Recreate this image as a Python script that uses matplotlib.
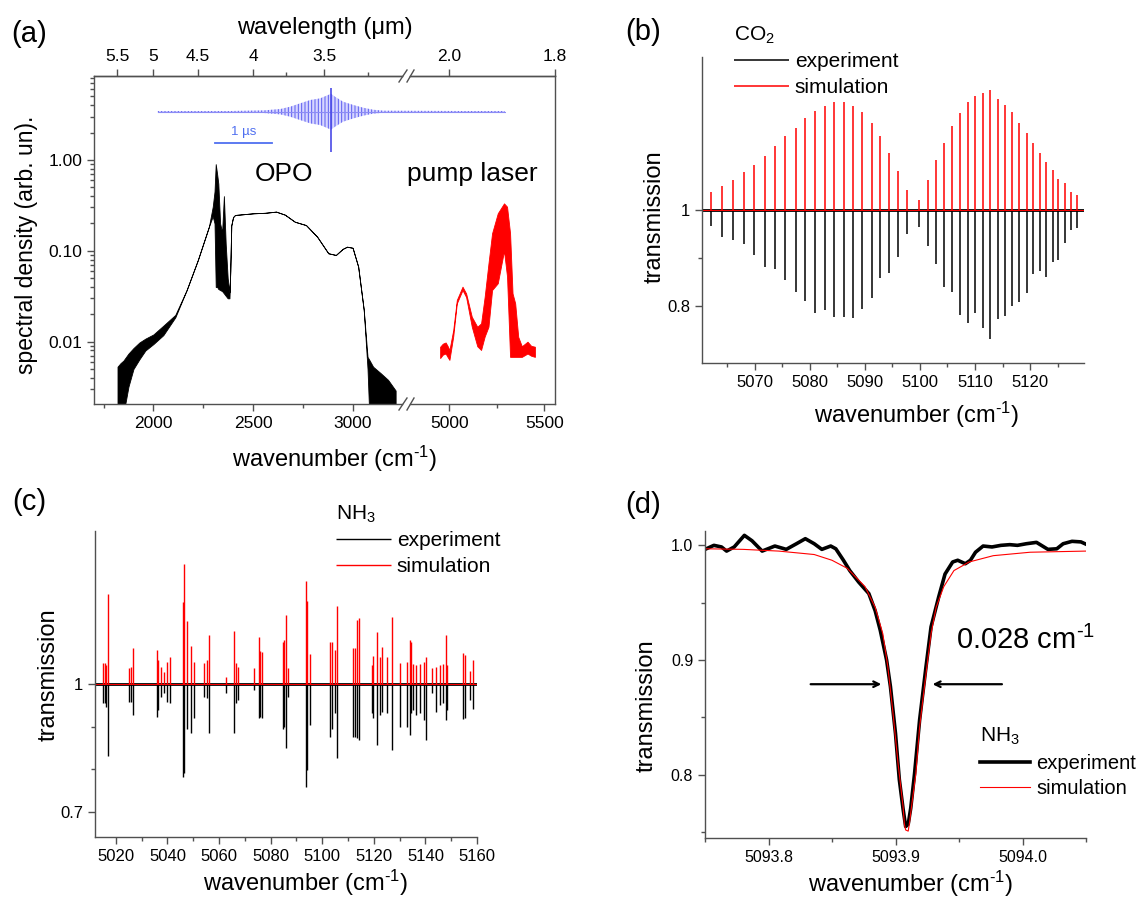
import numpy as np
import matplotlib.pyplot as plt
from matplotlib.lines import Line2D
from matplotlib.ticker import FixedLocator, NullFormatter, LogLocator

plt.rcParams['font.family'] = ['Liberation Sans', 'DejaVu Sans']
plt.rcParams['mathtext.fontset'] = 'custom'
plt.rcParams['mathtext.rm'] = 'Liberation Sans'
plt.rcParams['mathtext.it'] = 'Liberation Sans:italic'
plt.rcParams['hatch.linewidth'] = 0.7

# ---- (a) OPO spectrum: wavenumber, lower / upper envelope of the trace
opo_wn = [1820, 1835, 1850, 1875, 1900, 1930, 1960, 2000, 2050, 2110, 2167, 2223, 2279,
          2298, 2307, 2313, 2320, 2326, 2335, 2345, 2354, 2363, 2373, 2382, 2386, 2391,
          2400, 2410, 2504, 2560, 2616, 2660, 2710, 2766, 2822, 2878, 2916, 2950, 2972,
          3000, 3028, 3056, 3075, 3084, 3103, 3141, 3178, 3216]
opo_lo = [0.0015, 0.0015, 0.0016, 0.0032, 0.0050, 0.0064, 0.0080, 0.0094, 0.0118, 0.0185,
          0.037, 0.079, 0.185, 0.240, 0.200, 0.040, 0.040, 0.038, 0.037, 0.036, 0.034,
          0.032, 0.030, 0.030, 0.060, 0.190, 0.235, 0.248, 0.259, 0.262, 0.270, 0.250,
          0.209, 0.192, 0.143, 0.094, 0.090, 0.105, 0.111, 0.108, 0.067, 0.0223, 0.0050,
          0.0015, 0.0015, 0.0015, 0.0015, 0.0015]
opo_hi = [0.0053, 0.0058, 0.0062, 0.0074, 0.0085, 0.0098, 0.0108, 0.0120, 0.0150, 0.0197,
          0.037, 0.079, 0.185, 0.306, 0.45, 0.90, 0.70, 0.55, 0.20, 0.16, 0.40, 0.12,
          0.05, 0.035, 0.060, 0.190, 0.235, 0.248, 0.259, 0.262, 0.270, 0.250, 0.209,
          0.192, 0.143, 0.094, 0.090, 0.105, 0.111, 0.108, 0.067, 0.0223, 0.0068, 0.0063,
          0.0053, 0.0045, 0.0038, 0.0029]

# ---- (a) pump laser spectrum
pump_wn = [4951, 4965, 4980, 4990, 5000, 5020, 5039, 5069, 5088, 5118, 5147, 5167, 5186,
           5206, 5225, 5255, 5288, 5304, 5320, 5333, 5347, 5363, 5382, 5412, 5431, 5451]
pump_lo = [0.0066, 0.0072, 0.0074, 0.0068, 0.0063, 0.0114, 0.0264, 0.037, 0.031, 0.0146,
           0.0089, 0.0081, 0.0114, 0.0146, 0.037, 0.0439, 0.100, 0.052, 0.0068, 0.0068,
           0.0068, 0.0068, 0.0068, 0.0074, 0.0070, 0.0068]
pump_hi = [0.0088, 0.0095, 0.0098, 0.0090, 0.0081, 0.0134, 0.0288, 0.0403, 0.034, 0.0188,
           0.0146, 0.0159, 0.0313, 0.0728, 0.156, 0.259, 0.333, 0.306, 0.156, 0.034,
           0.0264, 0.0113, 0.0089, 0.0100, 0.0090, 0.0088]

# ---- (a) interferogram inset (time in us, envelope half amplitude)
igram_t = [-3.02, -1.75, -1.17, -0.88, -0.71, -0.54, -0.36, -0.19, -0.05, 0.0, 0.07,
           0.21, 0.39, 0.56, 0.73, 0.91, 2.24, 3.03]
igram_env = [0.7, 0.7, 1.3, 2.7, 5.0, 8.3, 11.7, 13.3, 16.7, 18.0, 15.0, 10.0, 6.7, 4.0,
             2.0, 1.0, 0.7, 0.7]
spike_t = [0.0]
spike_lo = [-40.0]
spike_hi = [23.3]
scalebar_t = [-2.03, -1.03]

# wavelength ticks of the top axis (um)
wl_left = [5.5, 5, 4.5, 4, 3.5]
wl_left_lbl = ['5.5', '5', '4.5', '4', '3.5']
wl_right = [2.0, 1.8]
wl_right_lbl = ['2.0', '1.8']

# ---- (b) CO2 lines
co2_wn = [5062.12, 5064.06, 5066.06, 5068.00, 5069.88, 5071.82, 5073.64, 5075.51, 5077.39,
          5079.09, 5080.91, 5082.67, 5084.42, 5086.18, 5087.82, 5089.52, 5091.21, 5092.79,
          5094.42, 5096.00, 5097.64, 5099.88,
          5101.39, 5102.91, 5104.42, 5105.88, 5107.33, 5108.73, 5110.06, 5111.45, 5112.79,
          5114.12, 5115.45, 5116.73, 5118.06, 5119.39, 5120.61, 5121.76, 5122.91, 5124.12,
          5125.15, 5126.30, 5127.40, 5128.50]
co2_sim = [0.038, 0.050, 0.0625, 0.078, 0.094, 0.1125, 0.132, 0.153, 0.170, 0.190, 0.205,
           0.217, 0.224, 0.224, 0.217, 0.203, 0.181, 0.153, 0.119, 0.080, 0.042, 0.021,
           0.0625, 0.104, 0.140, 0.175, 0.201, 0.224, 0.2375, 0.243, 0.250, 0.231, 0.219,
           0.203, 0.181, 0.160, 0.139, 0.119, 0.099, 0.083, 0.065, 0.056, 0.038, 0.031]
co2_exp = [0.033, 0.056, 0.0625, 0.071, 0.095, 0.119, 0.124, 0.147, 0.172, 0.189, 0.215,
           0.208, 0.224, 0.224, 0.226, 0.207, 0.184, 0.142, 0.132, 0.099, 0.050, 0.035,
           0.076, 0.113, 0.160, 0.172, 0.219, 0.236, 0.215, 0.247, 0.269, 0.228, 0.221,
           0.201, 0.191, 0.174, 0.133, 0.128, 0.139, 0.108, 0.104, 0.069, 0.043, 0.039]

# ---- (c) NH3 lines
nh3_wn = [5015.0, 5015.7, 5016.2, 5016.8, 5025.2, 5025.9, 5026.6, 5035.8, 5036.3, 5037.3,
          5038.6, 5040.0, 5041.0, 5046.1, 5046.5, 5047.5, 5049.1, 5050.3, 5054.0, 5055.2,
          5056.2, 5062.5, 5065.8, 5066.7, 5067.4, 5073.4, 5075.3, 5076.0, 5076.6, 5084.7,
          5085.3, 5086.0, 5086.6, 5093.6, 5094.1, 5095.3, 5103.0, 5103.7, 5104.8, 5105.8,
          5112.1, 5112.8, 5113.5, 5114.2, 5119.1, 5119.8, 5121.2, 5122.3, 5123.3, 5125.1,
          5126.9, 5130.0, 5132.8, 5133.9, 5134.4, 5135.3, 5136.5, 5137.8, 5139.5, 5140.4,
          5142.5, 5144.2, 5145.6, 5146.7, 5147.8, 5148.5, 5154.4, 5155.4, 5157.2, 5158.6]
nh3_sim = [0.051, 0.051, 0.045, 0.213, 0.038, 0.040, 0.085, 0.081, 0.057, 0.042,
           0.030, 0.053, 0.065, 0.195, 0.284, 0.150, 0.091, 0.053, 0.050, 0.057,
           0.116, 0.018, 0.126, 0.051, 0.042, 0.038, 0.111, 0.079, 0.077, 0.101,
           0.104, 0.163, 0.038, 0.244, 0.197, 0.071, 0.100, 0.100, 0.081, 0.185,
           0.087, 0.087, 0.152, 0.156, 0.045, 0.067, 0.124, 0.065, 0.088, 0.065,
           0.158, 0.051, 0.053, 0.104, 0.100, 0.049, 0.045, 0.048, 0.053, 0.065,
           0.038, 0.042, 0.045, 0.049, 0.116, 0.045, 0.073, 0.069, 0.032, 0.057]
nh3_exp = [0.045, 0.045, 0.053, 0.170, 0.041, 0.041, 0.072, 0.078, 0.060, 0.029,
           0.020, 0.041, 0.045, 0.218, 0.210, 0.104, 0.115, 0.080, 0.029, 0.033,
           0.115, 0.021, 0.115, 0.045, 0.037, 0.012, 0.080, 0.078, 0.080, 0.104,
           0.100, 0.151, 0.029, 0.241, 0.202, 0.096, 0.123, 0.104, 0.068, 0.174,
           0.123, 0.123, 0.127, 0.131, 0.068, 0.080, 0.143, 0.072, 0.064, 0.068,
           0.155, 0.101, 0.100, 0.119, 0.068, 0.060, 0.072, 0.068, 0.084, 0.131,
           0.021, 0.064, 0.049, 0.045, 0.084, 0.060, 0.082, 0.080, 0.037, 0.057]

# ---- (d) single NH3 line
d_exp_wn = [5093.751, 5093.757, 5093.763, 5093.767, 5093.773, 5093.781, 5093.787, 5093.795,
            5093.805, 5093.814, 5093.822, 5093.829, 5093.836, 5093.842, 5093.849, 5093.853,
            5093.859, 5093.864, 5093.871, 5093.879, 5093.884, 5093.888, 5093.893, 5093.896,
            5093.900, 5093.903, 5093.906, 5093.908, 5093.910, 5093.912, 5093.915, 5093.919,
            5093.924, 5093.928, 5093.934, 5093.939, 5093.945, 5093.949, 5093.955, 5093.959,
            5093.963, 5093.969, 5093.976, 5093.983, 5093.990, 5093.996, 5094.003, 5094.011,
            5094.020, 5094.027, 5094.032, 5094.039, 5094.046, 5094.050]
d_exp_T = [0.997, 1.000, 0.9986, 0.995, 0.9986, 1.0087, 1.004, 0.995, 0.9994, 0.9965,
           1.0014, 1.0058, 1.0014, 0.9965, 0.9994, 0.997, 0.987, 0.978, 0.968, 0.958,
           0.943, 0.926, 0.900, 0.877, 0.836, 0.796, 0.770, 0.755, 0.757, 0.771, 0.801,
           0.848, 0.894, 0.929, 0.955, 0.975, 0.9855, 0.987, 0.984, 0.987, 0.994, 0.9994,
           0.9986, 1.000, 1.0006, 1.000, 1.0014, 1.0026, 0.9965, 0.997, 1.0014, 1.0035,
           1.003, 1.001]
d_sim_wn = [5093.751, 5093.780, 5093.808, 5093.836, 5093.850, 5093.862, 5093.876, 5093.884,
            5093.890, 5093.894, 5093.898, 5093.902, 5093.906, 5093.907, 5093.908, 5093.910,
            5093.911, 5093.912, 5093.916, 5093.919, 5093.924, 5093.928, 5093.932, 5093.938,
            5093.946, 5093.958, 5093.977, 5094.006, 5094.050]
d_sim_T = [0.997, 0.9965, 0.995, 0.992, 0.987, 0.980, 0.964, 0.946, 0.923, 0.894, 0.854,
           0.810, 0.772, 0.757, 0.752, 0.751, 0.758, 0.767, 0.801, 0.842, 0.888, 0.923,
           0.946, 0.964, 0.978, 0.9855, 0.991, 0.994, 0.995]
fwhm_left = [5093.831, 5093.891]
fwhm_right = [5093.986, 5093.927]
fwhm_T = 0.879

WN_LABEL = r'wavenumber (cm$^{\text{-1}}$)'

W, H = 1139, 901
fig = plt.figure(figsize=(W / 100, H / 100), dpi=100)
SPINE = '#505050'


def box(l, t, r, b):
    return [l / W, 1 - b / H, (r - l) / W, (b - t) / H]


def fx(x):
    return x / W


def fy(y):
    return 1 - y / H


def style(ax, size=12):
    for s in ax.spines.values():
        s.set_color(SPINE)
        s.set_linewidth(1.0)
    ax.tick_params(which='both', direction='out', color=SPINE, width=1.0, labelsize=size)
    ax.tick_params(which='major', length=5)
    ax.tick_params(which='minor', length=3)


def um(x):
    with np.errstate(divide='ignore'):
        return 1e4 / np.asarray(x, dtype=float)


def legend(ax, title, x, y):
    ax.legend(title=title, loc='upper left', bbox_to_anchor=(fx(x), fy(y)),
              bbox_transform=fig.transFigure, frameon=False, fontsize=15,
              title_fontsize=15, handlelength=2.6, handletextpad=0.3,
              labelspacing=0.32, borderpad=0, alignment='left')


# ================= (a)
axL = fig.add_axes(box(94, 76, 402, 404))
axR = fig.add_axes(box(410, 76, 555, 404))
for ax in (axL, axR):
    style(ax, 12.5)
    ax.set_yscale('log')
    ax.set_ylim(0.00206, 8.4)
axL.fill_between(opo_wn, opo_lo, opo_hi, color='black', lw=0.6)
axR.fill_between(pump_wn, pump_lo, pump_hi, color='red', lw=0.6)
axL.set_xlim(1702, 3248)
axR.set_xlim(4792, 5557)
axL.spines['right'].set_visible(False)
axR.spines['left'].set_visible(False)
axR.tick_params(which='both', left=False, labelleft=False)
axL.set_xticks([2000, 2500, 3000])
axL.xaxis.set_minor_locator(FixedLocator([1750, 2250, 2750]))
axR.set_xticks([5000, 5500])
axR.xaxis.set_minor_locator(FixedLocator([5250]))
axL.set_yticks([0.01, 0.1, 1.0], ['0.01', '0.10', '1.00'])
axL.yaxis.set_minor_locator(LogLocator(subs=np.arange(2, 10)))
axL.yaxis.set_minor_formatter(NullFormatter())

secL = axL.secondary_xaxis('top', functions=(um, um))
secL.set_xticks(wl_left, labels=wl_left_lbl)
secL.xaxis.set_minor_locator(FixedLocator([3.75, 3.25]))
secR = axR.secondary_xaxis('top', functions=(um, um))
secR.set_xticks(wl_right, labels=wl_right_lbl)
secR.xaxis.set_minor_locator(FixedLocator([]))
for s in (secL, secR):
    style(s, 12.5)

# axis break marks
for yb in (404, 76):
    for x1, x2 in ((399, 407), (407, 414)):
        fig.add_artist(Line2D([fx(x1), fx(x2)], [fy(yb + 6), fy(yb - 6)], color=SPINE, lw=1))

axL.set_xlabel(WN_LABEL, fontsize=17)
axL.xaxis.set_label_coords(fx(335), fy(444), transform=fig.transFigure)
axL.set_ylabel('spectral density (arb. un).', fontsize=16.5)
axL.yaxis.set_label_coords(fx(38), fy(245), transform=fig.transFigure)
fig.text(fx(325), fy(28), 'wavelength (\u03bcm)', fontsize=17, ha='center', va='center')
fig.text(fx(284), fy(174), 'OPO', fontsize=19, ha='center', va='center')
fig.text(fx(472), fy(174), 'pump laser', fontsize=19, ha='center', va='center')
fig.text(fx(29), fy(34), '(a)', fontsize=21, ha='center', va='center')

# interferogram inset
axI = fig.add_axes(box(156, 80, 506, 160))
axI.axis('off')
axI.set_xlim(-3.05, 3.05)
axI.set_ylim(-48.3, 31.7)
env = np.array(igram_env)
axI.fill_between(igram_t, -env, env, facecolor='#d6d6ff', edgecolor='#5a5af0',
                 hatch='|||||', lw=0)
axI.plot(igram_t, 0 * env, color='#8c8cf5', lw=0.8)
axI.vlines(spike_t, spike_lo, spike_hi, color='#4a4ae6', lw=1.2)
axI.plot(scalebar_t, [-31.6, -31.6], color='#4f6ff0', lw=1.3)
axI.text(np.mean(scalebar_t), -20, '1 \u00b5s', color='#4f6ff0', fontsize=9.5,
         ha='center', va='center')

# ================= (b)
axB = fig.add_axes(box(702, 57, 1084, 363))
style(axB, 12)
axB.spines[['top', 'right']].set_visible(False)
axB.axhline(1.0, color='black', lw=2.0)
axB.vlines(co2_wn, 1 - np.array(co2_exp), 1, color='black', lw=1.1, label='experiment')
axB.vlines(co2_wn, 1, 1 + np.array(co2_sim), color='red', lw=1.1, label='simulation')
axB.axhline(1.0, color='red', lw=0.7)
axB.set_xlim(5060.4, 5129.8)
axB.set_ylim(0.681, 1.318)
axB.set_xticks(range(5070, 5121, 10))
axB.xaxis.set_minor_locator(FixedLocator(range(5065, 5130, 5)))
axB.set_yticks([0.8, 1.0], ['0.8', '1'])
axB.yaxis.set_minor_locator(FixedLocator([0.9]))
axB.set_ylabel('transmission', fontsize=17)
axB.yaxis.set_label_coords(fx(666), fy(217), transform=fig.transFigure)
axB.set_xlabel(WN_LABEL, fontsize=17)
axB.xaxis.set_label_coords(fx(917), fy(400), transform=fig.transFigure)
legend(axB, 'CO$_2$', 724, 14)
fig.text(fx(643), fy(32), '(b)', fontsize=21, ha='center', va='center')

# ================= (c)
axC = fig.add_axes(box(95, 531, 477, 837))
style(axC, 12)
axC.spines[['top', 'right']].set_visible(False)
axC.axhline(1.0, color='black', lw=2.0)
axC.vlines(nh3_wn, 1 - np.array(nh3_exp), 1, color='black', lw=1.0, label='experiment')
axC.vlines(nh3_wn, 1, 1 + np.array(nh3_sim), color='red', lw=1.0, label='simulation')
axC.axhline(1.0, color='red', lw=0.7)
axC.set_xlim(5011.9, 5160)
axC.set_ylim(0.640, 1.362)
axC.set_xticks(range(5020, 5161, 20))
axC.xaxis.set_minor_locator(FixedLocator(range(5030, 5160, 20)))
axC.set_yticks([0.7, 1.0], ['0.7', '1'])
axC.yaxis.set_minor_locator(FixedLocator([0.8, 0.9]))
axC.set_ylabel('transmission', fontsize=17)
axC.yaxis.set_label_coords(fx(60), fy(675), transform=fig.transFigure)
axC.set_xlabel(WN_LABEL, fontsize=17)
axC.xaxis.set_label_coords(fx(306), fy(868), transform=fig.transFigure)
legend(axC, 'NH$_3$', 326, 493)
fig.text(fx(29), fy(502), '(c)', fontsize=21, ha='center', va='center')

# ================= (d)
axD = fig.add_axes(box(705, 531, 1086, 838))
style(axD, 11.5)
axD.spines[['top', 'right']].set_visible(False)
axD.plot(d_exp_wn, d_exp_T, color='black', lw=2.6, label='experiment')
axD.plot(d_sim_wn, d_sim_T, color='red', lw=0.8, label='simulation')
axD.set_xlim(5093.75, 5094.05)
axD.set_ylim(0.745, 1.0125)
axD.set_xticks([5093.8, 5093.9, 5094.0], ['5093.8', '5093.9', '5094.0'])
axD.xaxis.set_minor_locator(FixedLocator([5093.75, 5093.85, 5093.95, 5094.05]))
axD.set_yticks([0.8, 0.9, 1.0], ['0.8', '0.9', '1.0'])
axD.yaxis.set_minor_locator(FixedLocator([0.75, 0.85, 0.95]))
axD.annotate('', xy=(fwhm_left[1], fwhm_T), xytext=(fwhm_left[0], fwhm_T),
             arrowprops=dict(arrowstyle='->', color='black', lw=1.6))
axD.annotate('', xy=(fwhm_right[1], fwhm_T), xytext=(fwhm_right[0], fwhm_T),
             arrowprops=dict(arrowstyle='->', color='black', lw=1.6))
axD.text(5093.948, 0.917, r'0.028 cm$^{\text{-1}}$', fontsize=21, ha='left', va='center')
axD.set_ylabel('transmission', fontsize=17)
axD.yaxis.set_label_coords(fx(658), fy(706), transform=fig.transFigure)
axD.set_xlabel(WN_LABEL, fontsize=17)
axD.xaxis.set_label_coords(fx(911), fy(869), transform=fig.transFigure)
axD.legend(title='NH$_3$', loc='upper left', bbox_to_anchor=(fx(970), fy(716)),
           bbox_transform=fig.transFigure, frameon=False, fontsize=14.5,
           title_fontsize=15, handlelength=2.5, handletextpad=0.3, labelspacing=0.32,
           borderpad=0, alignment='left')
fig.text(fx(643), fy(505), '(d)', fontsize=21, ha='center', va='center')

fig.savefig('out.png', dpi=100)
